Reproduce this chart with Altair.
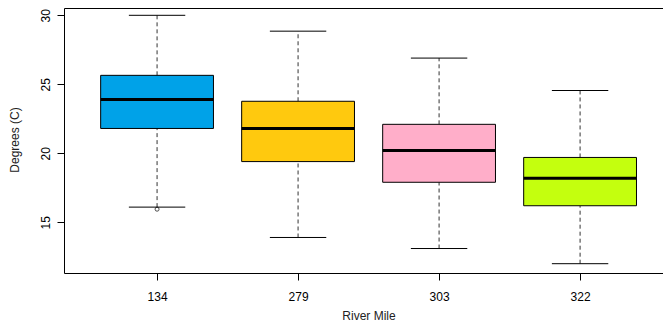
import altair as alt
import pandas as pd

# ---- data ----
categories = ["134", "279", "303", "322"]
lower_whisker = [16.1, 13.9, 13.1, 12.0]
q1 = [21.8, 19.4, 17.9, 16.2]
median = [23.9, 21.8, 20.2, 18.2]
q3 = [25.65, 23.77, 22.1, 19.7]
upper_whisker = [30.0, 28.85, 26.9, 24.55]
colors = ["#00A2E8", "#FFC90E", "#FFAEC9", "#C4FF0E"]
outlier_cat = ["134"]
outlier_val = [15.95]
y_ticks = [15, 20, 25, 30]

df = pd.DataFrame({
    "cat": categories,
    "pos": list(range(1, len(categories) + 1)),
    "lo": lower_whisker,
    "q1": q1,
    "med": median,
    "q3": q3,
    "hi": upper_whisker,
})
out_df = pd.DataFrame({
    "cat": outlier_cat,
    "pos": [categories.index(c) + 1 for c in outlier_cat],
    "val": outlier_val,
})

FONT = "Liberation Sans"
label_expr = "[" + ",".join("'%s'" % c for c in categories) + "][datum.value - 1]"

xscale = alt.Scale(domain=[0.34, 4.588], nice=False, zero=False)
yscale = alt.Scale(domain=[11.326, 30.529], nice=False, zero=False)

xaxis = alt.Axis(
    values=list(range(1, len(categories) + 1)), labelExpr=label_expr,
    domain=True, domainColor="#000000", domainWidth=1,
    grid=False, ticks=True, tickSize=7, tickColor="#000000",
    labelFontSize=12, labelPadding=11, labelColor="#000000", labelFont=FONT,
    labelBaseline="top", labelAngle=0,
    title="River Mile", titleFontSize=12, titleFontWeight="normal",
    titleFont=FONT, titleColor="#222222",
    titleX=304.5, titleY=42, titleAlign="center", titleBaseline="middle",
)
yaxis = alt.Axis(
    values=y_ticks, domain=True, domainColor="#000000", domainWidth=1,
    grid=False, ticks=True, tickSize=7,
    tickColor="#000000", labelFontSize=12, labelPadding=8,
    labelColor="#000000", labelFont=FONT, labelAngle=270,
    labelAlign="center", labelBaseline="alphabetic",
    title="Degrees (C)", titleFontSize=12, titleFontWeight="normal",
    titleFont=FONT, titleColor="#222222", titleAngle=270,
    titleX=-50, titleY=131.5, titleAlign="center", titleBaseline="middle",
)
top_axis = alt.Axis(
    orient="top", domain=True, domainColor="#000000", domainWidth=1,
    labels=False, ticks=False, grid=False, title=None,
)

base = alt.Chart(df).transform_calculate(
    bl="datum.pos - 0.4", br="datum.pos + 0.4",
    cl="datum.pos - 0.2", cr="datum.pos + 0.2",
)

whisk_up = base.mark_rule(color="#333333", strokeWidth=1, strokeDash=[4, 3]).encode(
    x=alt.X("pos:Q", scale=xscale, axis=xaxis),
    y=alt.Y("q3:Q", scale=yscale, axis=yaxis),
    y2="hi:Q",
)
whisk_lo = base.mark_rule(color="#333333", strokeWidth=1, strokeDash=[4, 3]).encode(
    x=alt.X("pos:Q", scale=xscale, axis=xaxis),
    y=alt.Y("lo:Q", scale=yscale, axis=yaxis),
    y2="q1:Q",
)
boxes = base.mark_rect(stroke="#000000", strokeWidth=1).encode(
    x=alt.X("bl:Q", scale=xscale, axis=xaxis),
    x2="br:Q",
    y=alt.Y("q1:Q", scale=yscale, axis=yaxis),
    y2="q3:Q",
    color=alt.Color("cat:N", scale=alt.Scale(domain=categories, range=colors), legend=None),
)
med = base.mark_rule(color="#000000", strokeWidth=3).encode(
    x=alt.X("bl:Q", scale=xscale, axis=xaxis),
    x2="br:Q",
    y=alt.Y("med:Q", scale=yscale, axis=yaxis),
)
cap_hi = base.mark_rule(color="#000000", strokeWidth=1).encode(
    x=alt.X("cl:Q", scale=xscale, axis=xaxis),
    x2="cr:Q",
    y=alt.Y("hi:Q", scale=yscale, axis=yaxis),
)
cap_lo = base.mark_rule(color="#000000", strokeWidth=1).encode(
    x=alt.X("cl:Q", scale=xscale, axis=xaxis),
    x2="cr:Q",
    y=alt.Y("lo:Q", scale=yscale, axis=yaxis),
)
outliers = alt.Chart(out_df).mark_point(
    shape="circle", filled=False, color="#000000", size=16, strokeWidth=1
).encode(
    x=alt.X("pos:Q", scale=xscale, axis=xaxis),
    y=alt.Y("val:Q", scale=yscale, axis=yaxis),
)

main = alt.layer(whisk_up, whisk_lo, boxes, med, cap_hi, cap_lo, outliers)

# invisible layer that only carries the top frame line (top axis domain)
frame_top = alt.Chart(df).mark_point(opacity=0).encode(
    x=alt.X("pos:Q", scale=xscale, axis=top_axis),
    y=alt.Y("med:Q", scale=yscale, axis=yaxis),
)

chart = alt.layer(main, frame_top).resolve_axis(x="independent").properties(
    width=599, height=265,
    autosize=alt.AutoSizeParams(type="none"),
    padding={"left": 56, "top": 0, "right": 0, "bottom": 50},
    background="#ffffff",
).configure_view(
    strokeWidth=0, clip=False,
)

chart.save("out.html", embed_options={"renderer": "svg", "actions": False})
